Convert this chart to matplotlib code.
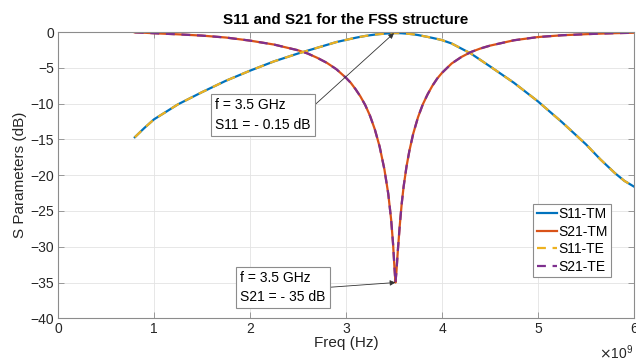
import numpy as np
import matplotlib
matplotlib.use("Agg")
import matplotlib.pyplot as plt

plt.rcParams['font.family'] = ['Liberation Sans', 'DejaVu Sans']

# frequency points in GHz
freq_ghz = [0.8, 0.9, 1.0, 1.25, 1.5, 1.75, 2.0, 2.25, 2.5,
            2.6, 2.7, 2.8, 2.9, 3.0,
            3.05, 3.1, 3.15, 3.2, 3.25, 3.3, 3.35, 3.4,
            3.44, 3.47, 3.49, 3.505, 3.515, 3.525, 3.54, 3.56, 3.58, 3.6,
            3.63, 3.66, 3.7, 3.75, 3.8, 3.85, 3.9, 3.95, 4.0,
            4.1, 4.2, 4.3, 4.4, 4.5,
            4.75, 5.0, 5.25, 5.5, 5.65, 5.8, 5.9, 6.0]

s11_tm = [-14.7, -13.4, -12.2, -10.1, -8.4, -6.8, -5.4, -4.1, -3.0,
          -2.6, -2.2, -1.8, -1.4, -1.1,
          -0.95, -0.8, -0.67, -0.55, -0.45, -0.36, -0.29, -0.23,
          -0.19, -0.16, -0.15, -0.15, -0.15, -0.15, -0.15, -0.16, -0.17, -0.19,
          -0.22, -0.26, -0.32, -0.42, -0.55, -0.68, -0.82, -0.97, -1.13,
          -1.6, -2.3, -3.0, -3.9, -4.8,
          -7.1, -9.7, -12.6, -15.7, -17.8, -19.7, -20.8, -21.6]

s21_tm = [-0.05, -0.1, -0.17, -0.32, -0.5, -0.77, -1.2, -1.75, -2.55,
          -3.0, -3.6, -4.3, -5.2, -6.4,
          -7.1, -8.0, -9.0, -10.2, -11.7, -13.6, -16.0, -19.2,
          -22.6, -26.2, -29.6, -33.0, -35.0, -33.5, -30.5, -27.0, -24.0, -21.6,
          -18.8, -16.6, -14.2, -11.9, -10.1, -8.7, -7.5, -6.5, -5.7,
          -4.4, -3.5, -2.8, -2.3, -1.9,
          -1.15, -0.7, -0.45, -0.3, -0.22, -0.16, -0.13, -0.1]

# TE results lie on top of the TM results
s11_te = list(s11_tm)
s21_te = list(s21_tm)

labels = ['S11-TM', 'S21-TM', 'S11-TE', 'S21-TE']
colors = ['#0072BD', '#D95319', '#EDB120', '#7E2F8E']

freq = np.array(freq_ghz) * 1e9

fig = plt.figure(figsize=(6.36, 3.64), dpi=100)
ax = fig.add_axes([0.0912, 0.1255, 0.9057, 0.7865])

ax.plot(freq, s11_tm, color=colors[0], lw=1.6, label=labels[0])
ax.plot(freq, s21_tm, color=colors[1], lw=1.6, label=labels[1])
ax.plot(freq, s11_te, color=colors[2], lw=1.6, dashes=(4, 3), label=labels[2])
ax.plot(freq, s21_te, color=colors[3], lw=1.6, dashes=(4, 3), label=labels[3])

ax.set_xlim(0, 6e9)
ax.set_ylim(-40, 0)
ax.set_xticks(np.arange(0, 7) * 1e9)
ax.set_xticklabels([str(i) for i in range(7)])
ax.set_yticks(np.arange(-40, 1, 5))

ax.grid(True, color='#e3e3e3', lw=0.6)
ax.set_axisbelow(True)
for s in ax.spines.values():
    s.set_color('#8c8c8c')
    s.set_linewidth(0.8)
ax.tick_params(direction='in', top=True, right=True, length=4, width=0.6,
               color='#8c8c8c', labelsize=10, labelcolor='#262626', pad=3)

ax.set_title('S11 and S21 for the FSS structure', fontsize=11, fontweight='bold', pad=6)
ax.set_xlabel('Freq (Hz)', fontsize=11, color='#262626', labelpad=0)
ax.set_ylabel('S Parameters (dB)', fontsize=11, color='#262626', labelpad=2)
fig.text(0.996, 0.006, r'$\times\mathregular{10^9}$', ha='right', va='bottom',
         fontsize=10, color='#262626')

leg = ax.legend(loc='upper right', bbox_to_anchor=(0.96, 0.40), borderaxespad=0,
                fontsize=10, handlelength=1.45, handletextpad=0.1,
                labelspacing=0.25, borderpad=0.25, fancybox=False, framealpha=1)
leg.get_frame().set_edgecolor('#8c8c8c')
leg.get_frame().set_linewidth(0.8)

box = dict(boxstyle='square,pad=0.3', fc='white', ec='#8c8c8c', lw=0.8)
ax.annotate('f = 3.5 GHz\nS11 = - 0.15 dB', xy=(3.5e9, -0.15),
            xytext=(1.64e9, -11.6), textcoords='data', ha='left', va='center',
            fontsize=10, linespacing=1.5, bbox=box,
            arrowprops=dict(arrowstyle='-|>', color='#333333', lw=0.6,
                            mutation_scale=8, shrinkA=0, shrinkB=0,
                            relpos=(1, 0.7)))
ax.annotate('f = 3.5 GHz\nS21 = - 35 dB', xy=(3.515e9, -35),
            xytext=(1.9e9, -35.7), textcoords='data', ha='left', va='center',
            fontsize=10, linespacing=1.5, bbox=box,
            arrowprops=dict(arrowstyle='-|>', color='#333333', lw=0.6,
                            mutation_scale=8, shrinkA=0, shrinkB=0,
                            relpos=(1, 0.5)))

fig.savefig('out.png', dpi=100)
